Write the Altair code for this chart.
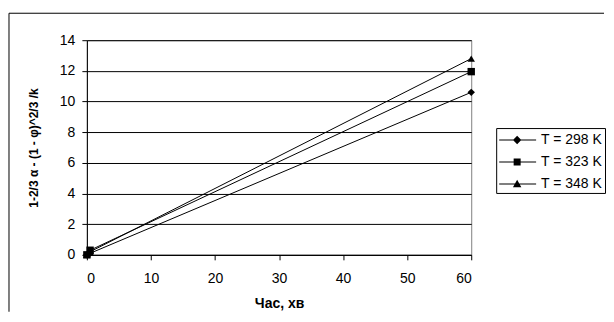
import altair as alt
import pandas as pd

time_min = [0, 0.5, 60]
series_labels = ["T = 298 K", "T = 323 K", "T = 348 K"]
y_298 = [0, 0.1, 10.6]
y_323 = [0, 0.3, 11.95]
y_348 = [0, 0.2, 12.8]
shapes = ["diamond", "square", "triangle-up"]
y_ticks = [0, 2, 4, 6, 8, 10, 12, 14]
x_ticks = [0, 10, 20, 30, 40, 50, 60]

rows = []
for lab, ys in zip(series_labels, [y_298, y_323, y_348]):
    for t, v in zip(time_min, ys):
        rows.append({"t": t, "v": v, "T": lab})
df = pd.DataFrame(rows)

FONT = "Liberation Sans"
W, H = 385, 215

xenc = alt.X("t:Q", scale=alt.Scale(domain=[0, 60], nice=False),
             axis=alt.Axis(values=x_ticks, title="Час, хв", grid=False, labelOverlap=False,
                           tickSize=5, labelPadding=12, titlePadding=11,
                           titleFontSize=14))
yenc = alt.Y("v:Q", scale=alt.Scale(domain=[0, 14], nice=False),
             axis=alt.Axis(values=y_ticks, title="1-2/3 α - (1 - φ)^2/3 /k", labelOverlap=False,
                           grid=True, gridColor="black", gridOpacity=1,
                           tickSize=5, labelPadding=7, titlePadding=19,
                           titleFontSize=12))

lines = alt.Chart(df).mark_line(color="black", strokeWidth=1).encode(
    x=xenc, y=yenc, detail="T:N")

points = alt.Chart(df).mark_point(filled=True, color="black", opacity=1, size=55).encode(
    x=xenc, y=yenc,
    shape=alt.Shape("T:N", scale=alt.Scale(domain=series_labels, range=shapes), legend=None))

bar = "M-0.9,-0.05L2.8,-0.05L2.8,0.05L-0.9,0.05Z"
leg_paths = [
    bar + "M0.9,-0.42L1.32,0L0.9,0.42L0.48,0Z",
    bar + "M0.55,-0.35L1.25,-0.35L1.25,0.35L0.55,0.35Z",
    bar + "M0.9,-0.42L1.32,0.32L0.48,0.32Z",
]
legend_layer = alt.Chart(df).mark_point(filled=True, color="black", opacity=1).encode(
    x=xenc, y=yenc,
    size=alt.value(400),
    shape=alt.Shape("T:N", scale=alt.Scale(domain=series_labels, range=leg_paths),
                    legend=alt.Legend(title=None, orient="none", legendX=410, legendY=88,
                                      symbolSize=400, symbolStrokeWidth=0,
                                      symbolFillColor="black",
                                      labelFont=FONT, labelFontSize=14, labelColor="black",
                                      strokeColor="black", padding=2, rowPadding=5,
                                      labelOffset=23))
).transform_filter("false")

frame_df = pd.DataFrame({"a": [1]})
frame_top = alt.Chart(frame_df).mark_rule(color="black", strokeWidth=1).encode(
    x=alt.value(-78), x2=alt.value(518), y=alt.value(-27))
frame_left = alt.Chart(frame_df).mark_rule(color="black", strokeWidth=1).encode(
    x=alt.value(-78), y=alt.value(-27), y2=alt.value(272))

chart = alt.layer(frame_top, frame_left, lines, points, legend_layer).resolve_scale(
    shape="independent").properties(
    width=W, height=H, padding={"left": 0, "top": 4, "right": 0, "bottom": 0}
).configure_view(stroke="#808080", strokeWidth=1).configure_axis(
    domainColor="black", tickColor="black", labelColor="black", titleColor="black",
    labelFont=FONT, titleFont=FONT, labelFontSize=14,
    titleFontWeight="bold"
)

chart.save("out.html", embed_options={"renderer": "svg", "actions": False})
